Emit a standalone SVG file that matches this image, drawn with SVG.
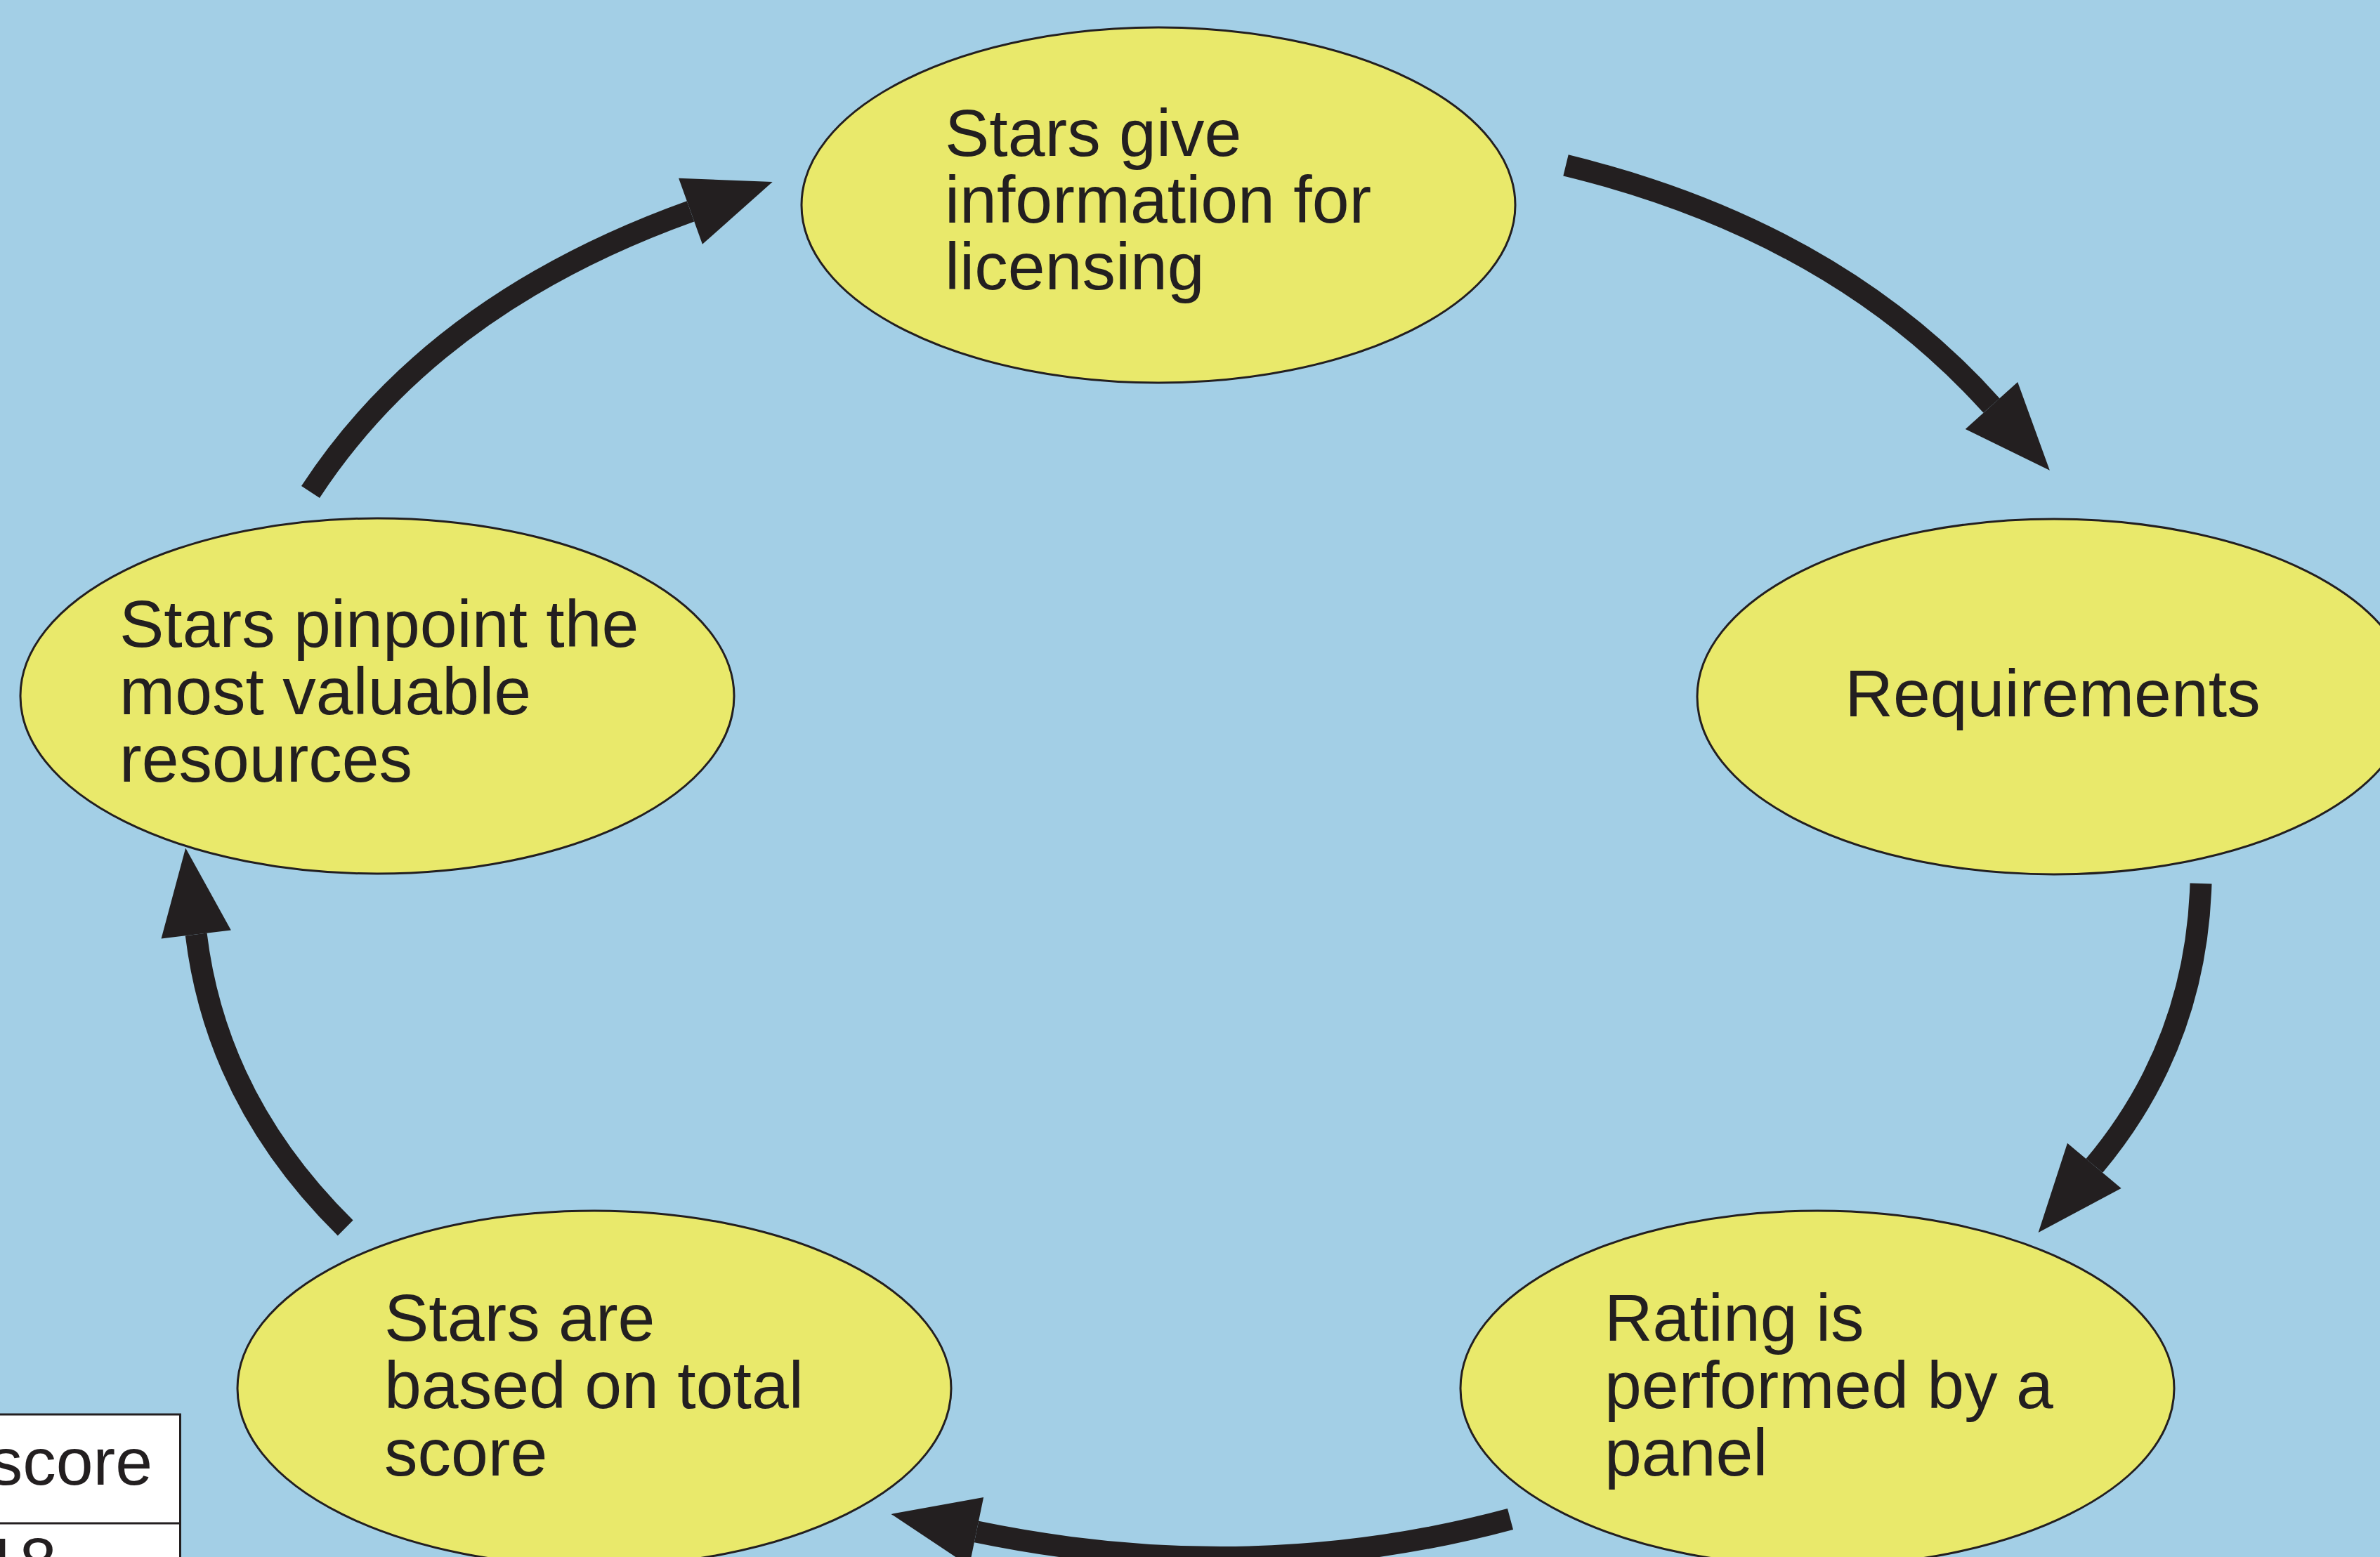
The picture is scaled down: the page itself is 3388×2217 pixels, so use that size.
<svg xmlns="http://www.w3.org/2000/svg" width="3388" height="2217" viewBox="0 0 3388 2217">
  <style>
    .node ellipse { fill: #E9E96B; stroke: #231F20; stroke-width: 3; }
    .lbl { font-family: "Liberation Sans", Arial, sans-serif; font-size: 95px; fill: #231F20; }
    .shaft { fill: none; stroke: #231F20; stroke-width: 31; stroke-linecap: butt; }
  </style>
  <defs>
    <marker id="ah" markerUnits="userSpaceOnUse" markerWidth="124" markerHeight="100" refX="0" refY="50" orient="auto" overflow="visible">
      <path d="M0,0 L124,50 L0,100 Z" fill="#231F20"/>
    </marker>
  </defs>
  <rect x="0" y="0" width="3388" height="2217" fill="#A3CFE6"/>

  <g id="table">
    <rect x="-10" y="2014" width="266.5" height="300" fill="#FFFFFF" stroke="#231F20" stroke-width="3"/>
    <line x1="-10" y1="2169" x2="256.5" y2="2169" stroke="#231F20" stroke-width="3"/>
    <text class="lbl" x="217" y="2114" text-anchor="end">score</text>
    <text class="lbl" x="-25" y="2256">18</text>
  </g>

  <g id="node-licensing" class="node">
    <ellipse cx="1649" cy="292" rx="508" ry="253"/>
    <text class="lbl" x="1345"><tspan x="1345" y="222">Stars give</tspan><tspan x="1345" y="317">information for</tspan><tspan x="1345" y="412">licensing</tspan></text>
  </g>
  <g id="node-requirements" class="node">
    <ellipse cx="2924" cy="992" rx="508" ry="253"/>
    <text class="lbl" x="2922" y="1020" text-anchor="middle">Requirements</text>
  </g>
  <g id="node-rating" class="node">
    <ellipse cx="2587" cy="1977" rx="508" ry="253"/>
    <text class="lbl"><tspan x="2284" y="1909">Rating is</tspan><tspan x="2284" y="2005">performed by a</tspan><tspan x="2284" y="2101">panel</tspan></text>
  </g>
  <g id="node-score" class="node">
    <ellipse cx="846" cy="1977" rx="508" ry="253"/>
    <text class="lbl"><tspan x="547" y="1909">Stars are</tspan><tspan x="547" y="2005">based on total</tspan><tspan x="547" y="2101">score</tspan></text>
  </g>
  <g id="node-resources" class="node">
    <ellipse cx="537" cy="991" rx="508" ry="253"/>
    <text class="lbl"><tspan x="170" y="921">Stars pinpoint the</tspan><tspan x="170" y="1017">most valuable</tspan><tspan x="170" y="1113">resources</tspan></text>
  </g>

  <g id="connectors">
    <path class="shaft" d="M2229,235.4 Q2611.7,328.8 2835,577.5" marker-end="url(#ah)"/>
    <path class="shaft" d="M3133,1258 Q3126.1,1487.2 2981.3,1659.9" marker-end="url(#ah)"/>
    <path class="shaft" d="M2150,2163 Q1781.5,2262 1390,2181" marker-end="url(#ah)"/>
    <path class="shaft" d="M491.7,1748.5 Q308.1,1567.4 279.2,1330.5" marker-end="url(#ah)"/>
    <path class="shaft" d="M442,700.5 Q617.4,432.1 983,300.8" marker-end="url(#ah)"/>
  </g>
</svg>
